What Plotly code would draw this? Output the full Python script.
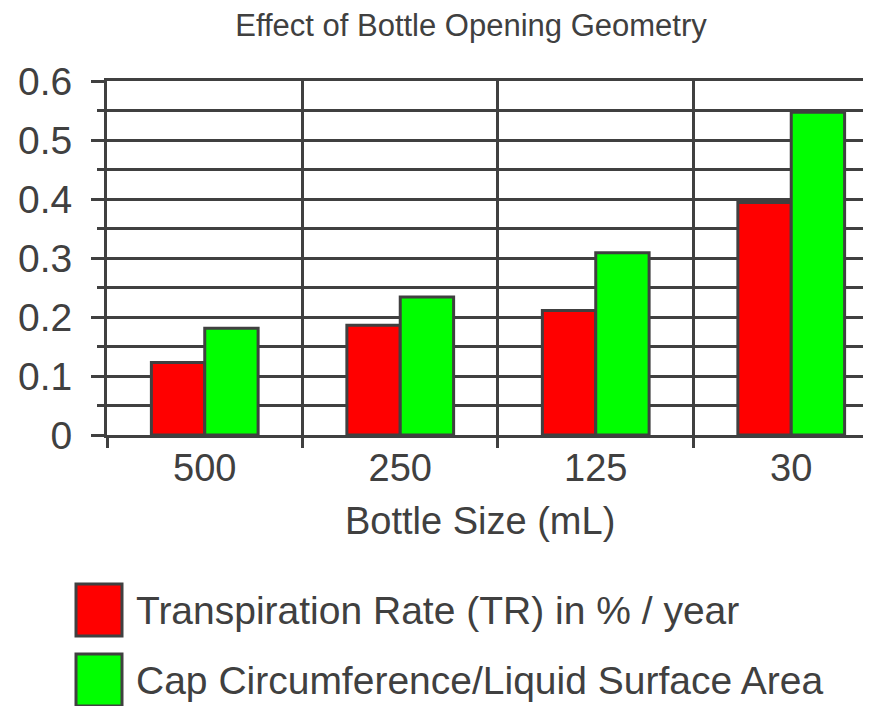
import plotly.graph_objects as go

categories = ["500", "250", "125", "30"]
tr_values = [0.123, 0.186, 0.211, 0.394]
cap_values = [0.181, 0.234, 0.309, 0.547]
series_names = ["Transpiration Rate (TR) in % / year", "Cap Circumference/Liquid Surface Area"]
series_colors = ["#FF0000", "#00FF00"]
title_text = "Effect of Bottle Opening Geometry"
x_title = "Bottle Size (mL)"

OFF = 8  # page body margin
W, H = 871 - OFF, 706 - OFF
L, R, T = 107 - OFF, 0, 81 - OFF
plot_h = 354
B = H - T - plot_h
INK = "#404040"
FONT = "Liberation Sans"

plot_w = W - L - R


def px_x(x):
    # reference pixel -> paper fraction
    return (x - OFF - L) / plot_w


def px_y(y):
    return (T + plot_h - (y - OFF)) / plot_h


fig = go.Figure()
for name, vals, col in zip(series_names, [tr_values, cap_values], series_colors):
    fig.add_trace(go.Bar(
        x=categories, y=vals, name=name,
        marker=dict(color=col, line=dict(color=INK, width=3)),
        showlegend=False,
    ))

fig.update_layout(
    width=W, height=H,
    margin=dict(l=L, r=R, t=T, b=B, pad=0),
    paper_bgcolor="white", plot_bgcolor="white",
    barmode="group", bargap=0.454, bargroupgap=0,
    font=dict(family=FONT, color=INK),
    title=dict(text=title_text, x=(471 - OFF) / W, xanchor="center",
               y=1 - (25 - OFF) / H, yanchor="middle",
               font=dict(size=31, color=INK, family=FONT)),
    showlegend=False,
)

fig.update_xaxes(
    type="category", range=[-0.5, 3.408],
    tickson="boundaries", ticks="outside", ticklen=10, tickwidth=3, tickcolor=INK,
    showgrid=True, gridcolor=INK, gridwidth=3,
    showline=True, linecolor=INK, linewidth=3, mirror=True,
    ticklabelstandoff=-3,
    tickfont=dict(size=38, color=INK, family=FONT),
)
fig.update_yaxes(
    range=[0, 0.6], dtick=0.1, tick0=0,
    ticks="outside", ticklen=13, tickwidth=3, tickcolor=INK,
    showgrid=True, gridcolor=INK, gridwidth=3,
    showline=True, linecolor=INK, linewidth=3,
    zeroline=False,
    tickformat=".1~f",
    ticklabelstandoff=11,
    tickfont=dict(size=39, color=INK, family=FONT),
    minor=dict(dtick=0.05, tick0=0, ticks="outside", ticklen=7, tickwidth=3, tickcolor=INK,
               showgrid=True, gridcolor=INK, gridwidth=3),
)

# x-axis title
fig.add_annotation(text=x_title, xref="paper", yref="paper", x=px_x(480), y=px_y(521),
                   xanchor="center", yanchor="middle", showarrow=False,
                   font=dict(size=38, color=INK, family=FONT))

# legend (swatches + labels)
rows_y = [610, 680]
for name, col, cy in zip(series_names, series_colors, rows_y):
    fig.add_shape(type="rect", xref="paper", yref="paper",
                  x0=px_x(76), x1=px_x(122), y0=px_y(cy - 26), y1=px_y(cy + 26),
                  fillcolor=col, line=dict(color=INK, width=3), layer="above")
    fig.add_annotation(text=name, xref="paper", yref="paper", x=px_x(134), y=px_y(cy),
                       xanchor="left", yanchor="middle", showarrow=False,
                       font=dict(size=39, color=INK, family=FONT))

fig.write_html("out.html")
